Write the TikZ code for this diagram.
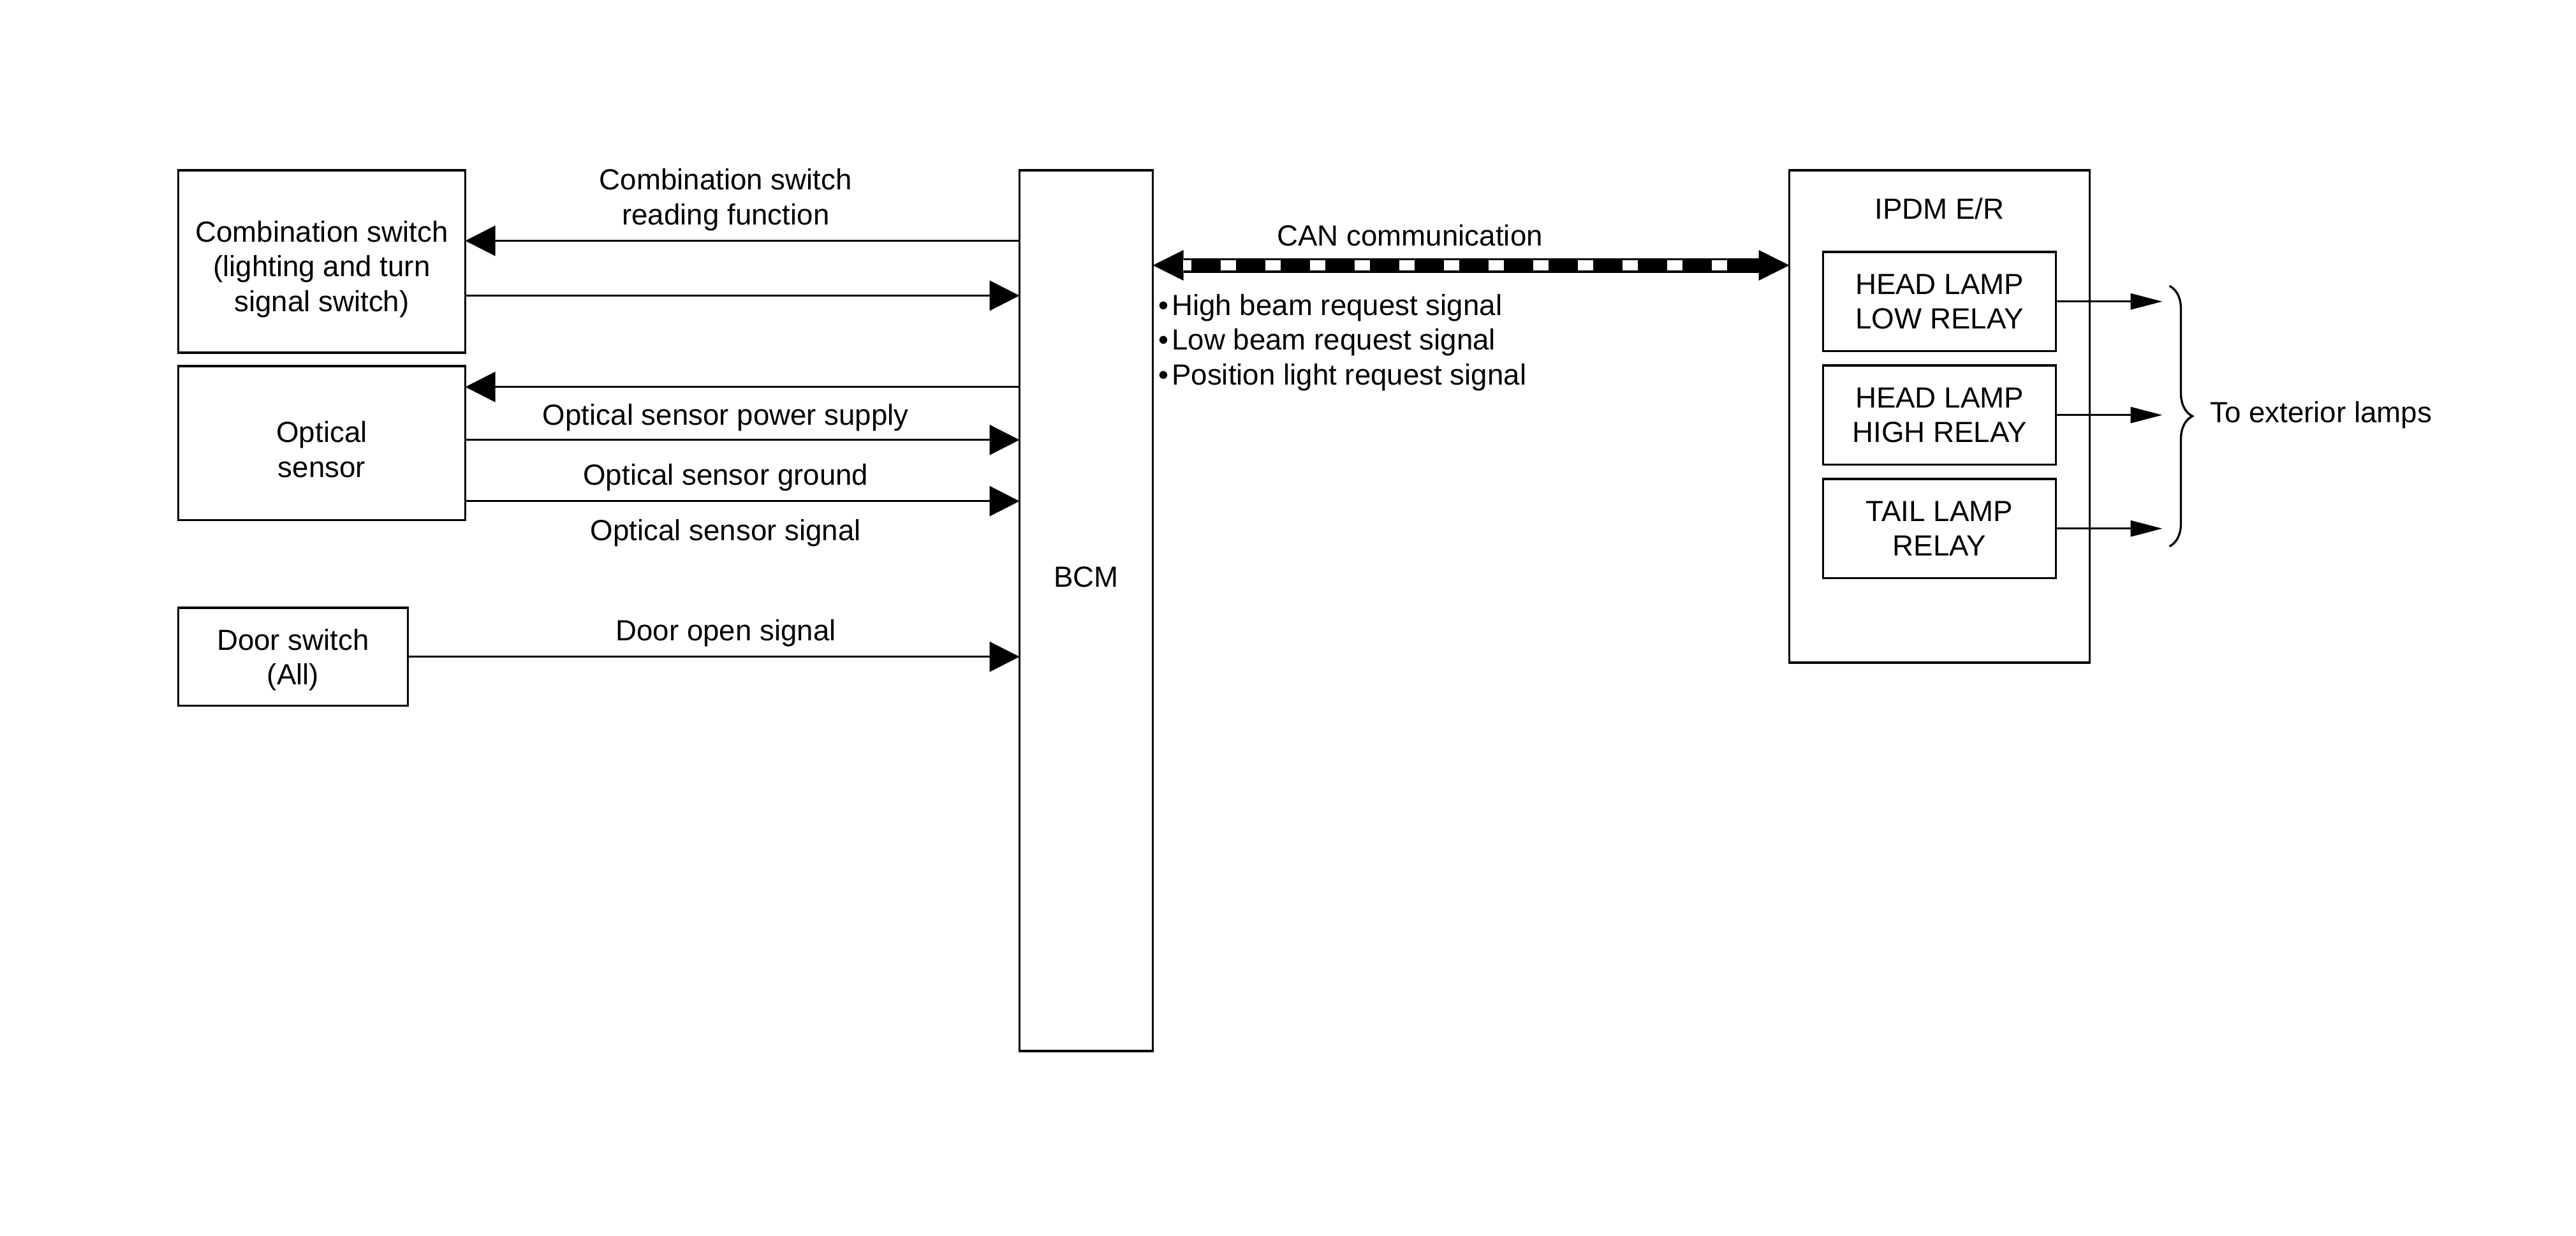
\documentclass[tikz,border=0pt]{standalone}
\usepackage{fontspec}
\setmainfont{Liberation Sans}
\usepackage{tikz}
\usetikzlibrary{arrows.meta, calc, decorations.pathreplacing, positioning}
\newcommand{\bulletitem}{•\kern0.05cm}
\tikzset{%
  block/.style={%
    rectangle,%
    draw=black,%
    line width=0.95pt,%
    inner sep=0pt,%
    outer sep=0pt,%
    align=center,%
    font={\fontsize{13pt}{15.5pt}\selectfont},%
  },
  annotate/.style={%
    inner sep=0pt,%
    align=center,%
    font={\fontsize{13pt}{15.5pt}\selectfont},%
  },
  signal/.style={%
    line width=0.95pt,%
    -{Triangle[length=0.47cm, width=0.47cm]},%
  },
  relay_out/.style={%
    line width=0.95pt,%
    -{Triangle[length=0.5cm, width=0.25cm]},%
  },
  can_bus/.style={%
    line width=0.23cm,%
    {Triangle[length=0.48cm, width=0.48cm, line width=0pt]}-{Triangle[length=0.48cm, width=0.48cm, line width=0pt]},%
  },
  can_dash/.style={%
    draw=white,%
    line width=0.16cm,%
    dash pattern=on 0.24cm off 0.46cm,%
    dash phase=0.11cm,%
  },
  brace_path/.style={%
    line width=0.95pt,%
    decorate,%
    decoration={brace, amplitude=0.36cm},%
  },
}
\begin{document}
\begin{tikzpicture}[x=1cm, y=1cm]
  \useasboundingbox (0, 0) rectangle (40.39, -19.37);

  % left side units
  \node [block, minimum width=4.50cm, minimum height=2.86cm] (Combo) at (5.045, -4.10) {};
  \node [annotate] (ComboText) at ([yshift=-0.12cm]Combo.center)
    {Combination switch\\(lighting and turn\\signal switch)};
  \node [block, minimum width=4.50cm, minimum height=2.415cm, below=0.21cm of Combo] (Optical) {};
  \node [annotate] (OpticalText) at ([yshift=-0.10cm]Optical.center) {Optical\\sensor};
  \node [block, minimum width=3.60cm, minimum height=1.535cm,
    below=1.375cm of Optical.south west, anchor=north west] (Door) {};
  \node [annotate] (DoorText) at ([yshift=-0.05cm]Door.center) {Door switch\\(All)};

  % control units
  \node [block, minimum width=2.09cm, minimum height=13.81cm,
    right=8.69cm of Combo.north east, anchor=north west] (BCM) {};
  \node [annotate] (BCMlabel) at ([yshift=0.53cm]BCM.center) {BCM};
  \node [block, minimum width=4.71cm, minimum height=7.72cm,
    right=9.98cm of BCM.north east, anchor=north west] (IPDM) {};
  \node [annotate, below=0.43cm of IPDM.north] (IPDMlabel) {IPDM E/R};
  \node [block, minimum width=3.65cm, minimum height=1.555cm, below=1.28cm of IPDM.north] (LowRelay)
    {HEAD LAMP\\LOW RELAY};
  \node [block, minimum width=3.65cm, minimum height=1.555cm, below=0.225cm of LowRelay] (HighRelay)
    {HEAD LAMP\\HIGH RELAY};
  \node [block, minimum width=3.65cm, minimum height=1.555cm, below=0.225cm of HighRelay] (TailRelay)
    {TAIL LAMP\\RELAY};

  \coordinate (ComboTop) at ([yshift=0.325cm]Combo.east);
  \coordinate (ComboBot) at ([yshift=-0.535cm]Combo.east);
  \coordinate (OptTop) at ([yshift=0.88cm]Optical.east);
  \coordinate (OptMid) at ([yshift=0.05cm]Optical.east);
  \coordinate (OptBot) at ([yshift=-0.91cm]Optical.east);
  \coordinate (CanLeft) at ([yshift=-1.49cm]BCM.north east);

  \draw [signal]
    (ComboTop -| BCM.west)
    --
    (ComboTop)
    node [annotate, pos=0.53, above=0.14cm] (ReadLabel) {Combination switch\\reading function};
  \draw [signal]
    (ComboBot)
    --
    (ComboBot -| BCM.west);
  \draw [signal]
    (OptTop -| BCM.west)
    --
    (OptTop);
  \draw [signal]
    (OptMid)
    --
    (OptMid -| BCM.west)
    node [annotate, pos=0.47, above=0.12cm] (PowerLabel) {Optical sensor power supply};
  \draw [signal]
    (OptBot)
    --
    (OptBot -| BCM.west)
    node [annotate, pos=0.47, above=0.14cm] (GroundLabel) {Optical sensor ground}
    node [annotate, pos=0.47, below=0.27cm] (SignalLabel) {Optical sensor signal};
  \draw [signal]
    (Door.east)
    --
    (Door.east -| BCM.west)
    node [annotate, pos=0.52, above=0.14cm] (DoorLabel) {Door open signal};

  % CAN line
  \draw [can_bus]
    (CanLeft)
    --
    (CanLeft -| IPDM.west)
    node [annotate, pos=0.404, above=0.19cm] (CanLabel) {CAN communication};
  \draw [can_dash]
    ([xshift=0.47cm]CanLeft)
    --
    ([xshift=9.05cm]CanLeft);
  \node [annotate, align=left, anchor=north west] (Requests)
    at ([xshift=0.08cm, yshift=-1.935cm]BCM.north east)
    {\bulletitem High beam request signal\\\bulletitem Low beam request signal\\\bulletitem Position light request signal};

  % relay outputs
  \draw [relay_out] (LowRelay.east) -- ([xshift=1.67cm]LowRelay.east);
  \draw [relay_out] (HighRelay.east) -- ([xshift=1.67cm]HighRelay.east);
  \draw [relay_out] (TailRelay.east) -- ([xshift=1.67cm]TailRelay.east);
  \draw [brace_path]
    ([xshift=1.78cm, yshift=0.245cm]LowRelay.east)
    --
    ([xshift=1.78cm, yshift=-0.28cm]TailRelay.east);
  \node [annotate, anchor=west] (Lamps) at ([xshift=2.41cm]HighRelay.east) {To exterior lamps};
\end{tikzpicture}
\end{document}
